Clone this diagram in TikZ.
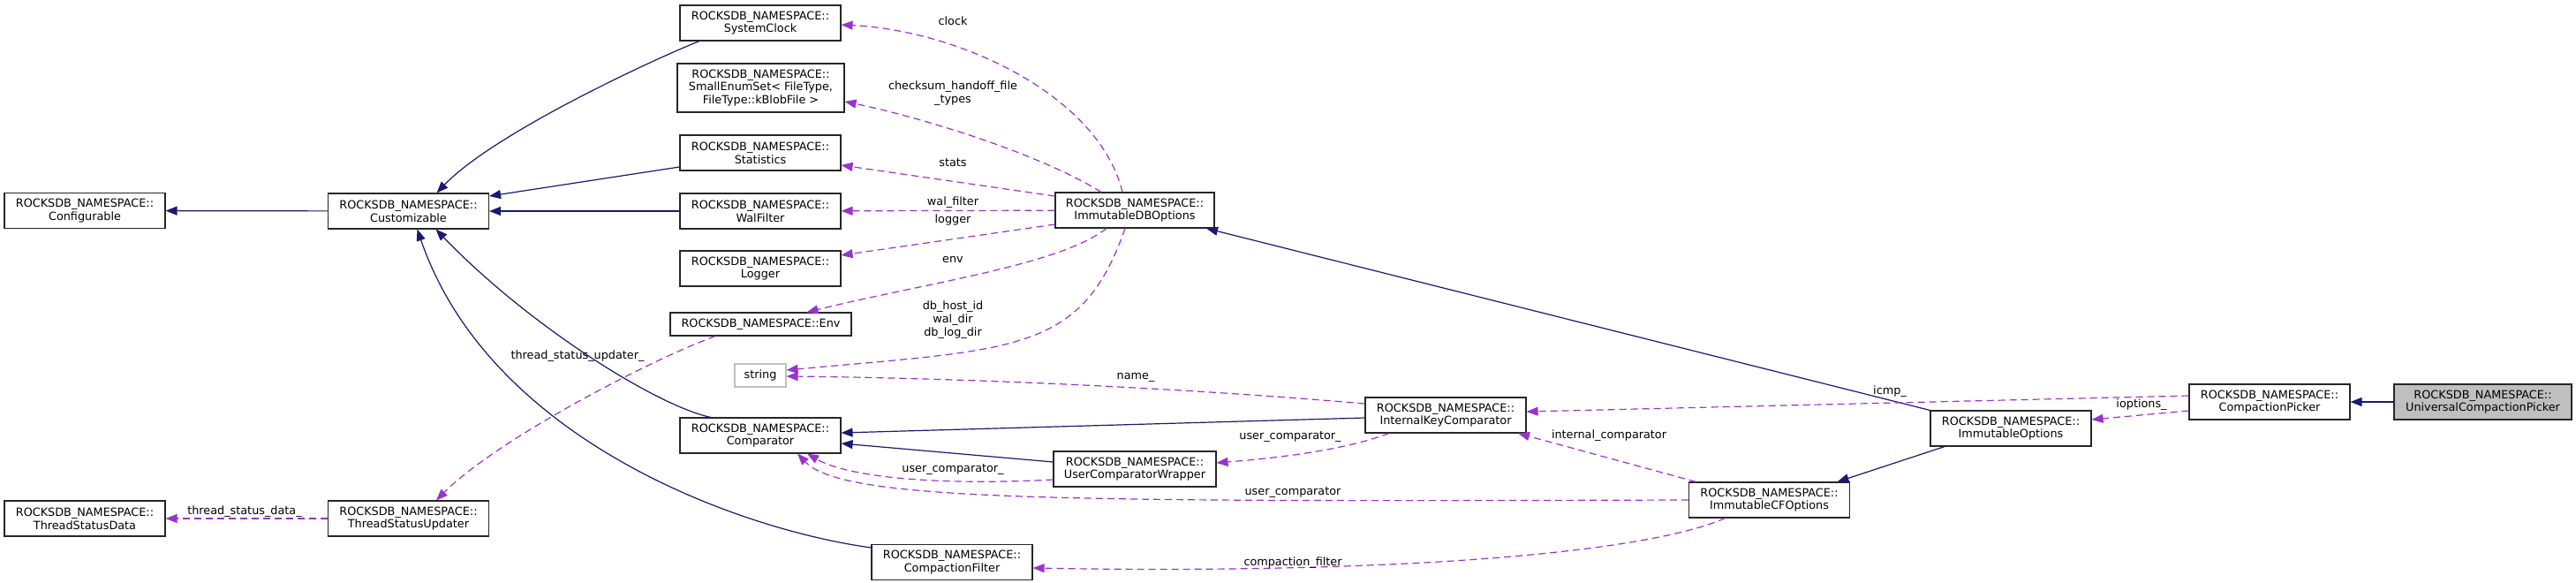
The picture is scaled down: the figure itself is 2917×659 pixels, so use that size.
\documentclass[tikz,border=0pt]{standalone}
\usepackage{fontspec}
\setmainfont{DejaVu Sans}
\usetikzlibrary{arrows.meta}
\definecolor{inhblue}{HTML}{191970}
\definecolor{usepurple}{HTML}{9A32CD}
\newcommand{\rns}{ROCKSDB\_NAMESPACE::}

\begin{document}
\begin{tikzpicture}[x=1pt,y=-1pt,>={Triangle[length=13pt,width=10pt]},
  cls/.style={draw=black!85,fill=white,line width=1.1pt,align=center,minimum width=182pt,minimum height=40pt,inner xsep=6pt,inner ysep=2pt,font=\fontsize{12.8pt}{14.8pt}\selectfont},
  inh/.style={->,draw=inhblue,line width=1.2pt},
  usage/.style={->,draw=usepurple,line width=1.2pt,dash pattern=on 8pt off 5pt},
  lbl/.style={inner sep=0pt,align=center,font=\fontsize{12.8pt}{14.8pt}\selectfont}]
  \useasboundingbox (0,0) rectangle (2917,659);

  % classes
  \node[cls] (cfg) at (96,238.5) {\rns\\Configurable};
  \node[cls] (cust) at (462.5,239) {\rns\\Customizable};
  \node[cls] (sclk) at (861,26) {\rns\\SystemClock};
  \node[cls,minimum width=189pt,minimum height=55pt] (senum) at (861.5,99.5) {\rns\\SmallEnumSet< FileType,\\FileType::kBlobFile >};
  \node[cls] (stats) at (861,173) {\rns\\Statistics};
  \node[cls] (walf) at (861,239) {\rns\\WalFilter};
  \node[cls] (logr) at (861,304) {\rns\\Logger};
  \node[cls,minimum width=205pt,minimum height=26pt] (env) at (861.5,367) {\rns Env};
  \node[cls,draw=black!25,minimum width=58pt,minimum height=26pt] (str) at (861,425) {string};
  \node[cls] (cmp) at (861,493) {\rns\\Comparator};
  \node[cls] (tsd) at (96,587) {\rns\\ThreadStatusData};
  \node[cls] (tsu) at (462.5,587) {\rns\\ThreadStatusUpdater};
  \node[cls,minimum width=180pt] (idbo) at (1285,238) {\rns\\ImmutableDBOptions};
  \node[cls] (ikc) at (1637,470) {\rns\\InternalKeyComparator};
  \node[cls,minimum width=184pt] (ucw) at (1285,531) {\rns\\UserComparatorWrapper};
  \node[cls] (cfilt) at (1078,636.5) {\rns\\CompactionFilter};
  \node[cls] (icfo) at (2003.5,566) {\rns\\ImmutableCFOptions};
  \node[cls] (iopt) at (2277,485) {\rns\\ImmutableOptions};
  \node[cls] (cpick) at (2570,455) {\rns\\CompactionPicker};
  \node[cls,fill=black!25,minimum width=201pt] (ucpick) at (2811.5,455) {\rns\\UniversalCompactionPicker};

  % inheritance
  \draw[inh] (cust) -- (cfg);
  \draw[inh] ([xshift=-69pt]sclk.south) .. controls (745,65) and (560,150) .. ([xshift=32pt]cust.north);
  \draw[inh] ([yshift=-16pt]stats.west) -- ([yshift=17pt]cust.east);
  \draw[inh] (walf) -- (cust);
  \draw[inh] ([xshift=-56pt]cmp.north) .. controls (745,460) and (600,370) .. ([xshift=31pt]cust.south);
  \draw[inh] ([yshift=16.5pt]cfilt.west) .. controls (840,600) and (555,500) .. ([xshift=10pt]cust.south);
  \draw[inh] ([yshift=-3pt]ikc.west) -- ([yshift=3pt]cmp.east);
  \draw[inh] ([yshift=8pt]ucw.west) -- ([yshift=-9pt]cmp.east);
  \draw[inh] (iopt.north west) -- ([xshift=81pt]idbo.south);
  \draw[inh] ([xshift=-75pt]iopt.south) -- ([xshift=77pt]icfo.north);
  \draw[inh] (ucpick) -- (cpick);

  % members
  \draw[usage] ([xshift=-14pt]idbo.north) .. controls (1245,110) and (1090,35) .. ([yshift=-2pt]sclk.east);
  \draw[usage] ([xshift=-38pt]idbo.north) .. controls (1170,170) and (1030,130) .. ([yshift=-15.5pt]senum.east);
  \draw[usage] ([yshift=16pt]idbo.west) -- ([yshift=-14pt]stats.east);
  \draw[usage] (idbo) -- (walf);
  \draw[usage] ([yshift=-16pt]idbo.west) -- ([yshift=15pt]logr.east);
  \draw[usage] ([xshift=-32pt]idbo.south) .. controls (1200,300) and (1050,320) .. ([xshift=52pt]env.north);
  \draw[usage] ([xshift=-11pt]idbo.south) .. controls (1225,400) and (1150,395) .. ([yshift=6pt]str.east);
  \draw[usage] ([yshift=13pt]ikc.west) .. controls (1350,440) and (1100,428) .. ([yshift=-1pt]str.east);
  \draw[usage] ([yshift=-12pt]ucw.west) .. controls (1060,550) and (960,540) .. ([xshift=53pt]cmp.south);
  \draw[usage] (icfo.west) .. controls (1200,568) and (955,568) .. ([xshift=42pt]cmp.south);
  \draw[usage] ([xshift=-64pt]ikc.south) .. controls (1520,510) and (1450,518) .. ([yshift=7pt]ucw.east);
  \draw[usage] ([xshift=-83pt]icfo.north) -- ([xshift=82pt]ikc.south);
  \draw[usage] ([xshift=-50pt]icfo.south) .. controls (1860,628) and (1560,650) .. ([yshift=-6.5pt]cfilt.east);
  \draw[usage] ([yshift=7pt]cpick.west) -- ([yshift=4pt]ikc.east);
  \draw[usage] ([yshift=-10pt]cpick.west) -- ([yshift=10pt]iopt.east);
  \draw[usage] (tsu) -- (tsd);
  \draw[usage] ([xshift=-51.5pt]env.south) .. controls (730,410) and (560,500) .. ([xshift=31.5pt]tsu.north);

  % member names
  \node[lbl] (l-clock) at (1079,24) {clock};
  \node[lbl] (l-csum) at (1079,106) {checksum\_handoff\_file\\\_types};
  \node[lbl] (l-stats) at (1079,184) {stats};
  \node[lbl] (l-walf) at (1079,229) {wal\_filter};
  \node[lbl] (l-logr) at (1079,249) {logger};
  \node[lbl] (l-env) at (1079,294) {env};
  \node[lbl] (l-dirs) at (1079,362) {db\_host\_id\\wal\_dir\\db\_log\_dir};
  \node[lbl] (l-name) at (1286,427) {name\_};
  \node[lbl] (l-ucmpa) at (1079,532) {user\_comparator\_};
  \node[lbl] (l-ucmpb) at (1461,495) {user\_comparator\_};
  \node[lbl] (l-ucmpc) at (1464,558) {user\_comparator};
  \node[lbl] (l-icmp) at (1822,493) {internal\_comparator};
  \node[lbl] (l-cfilt) at (1464,637) {compaction\_filter};
  \node[lbl] (l-icmpp) at (2140,443) {icmp\_};
  \node[lbl] (l-iopt) at (2425,458) {ioptions\_};
  \node[lbl] (l-tsd) at (277,579) {thread\_status\_data\_};
  \node[lbl] (l-tsu) at (654,403) {thread\_status\_updater\_};
\end{tikzpicture}
\end{document}
